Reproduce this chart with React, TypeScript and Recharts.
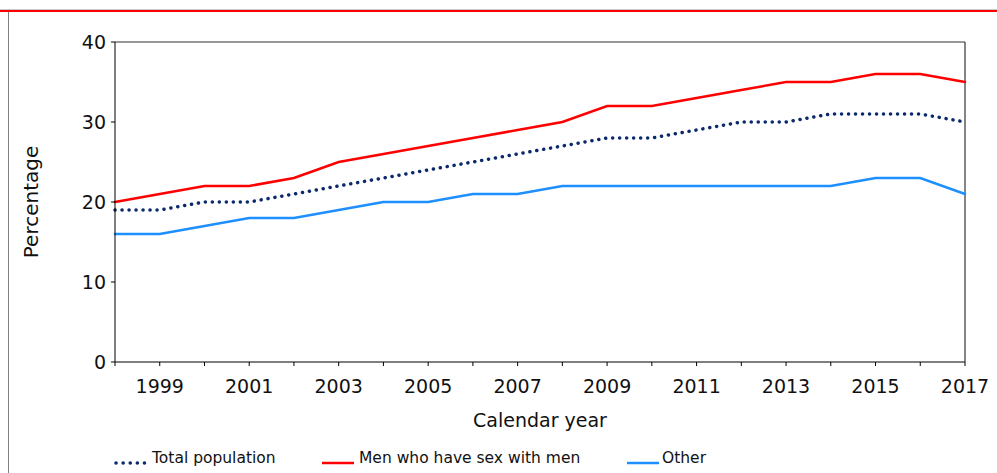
import { LineChart, Line, XAxis, YAxis, ReferenceLine, Label } from "recharts";

const years = [
  1998, 1999, 2000, 2001, 2002, 2003, 2004, 2005, 2006, 2007,
  2008, 2009, 2010, 2011, 2012, 2013, 2014, 2015, 2016, 2017,
];
const totalPopulation = [19, 19, 20, 20, 21, 22, 23, 24, 25, 26, 27, 28, 28, 29, 30, 30, 31, 31, 31, 30];
const menWithMen = [20, 21, 22, 22, 23, 25, 26, 27, 28, 29, 30, 32, 32, 33, 34, 35, 35, 36, 36, 35];
const other = [16, 16, 17, 18, 18, 19, 20, 20, 21, 21, 22, 22, 22, 22, 22, 22, 22, 23, 23, 21];
const labelledYears = [1999, 2001, 2003, 2005, 2007, 2009, 2011, 2013, 2015, 2017];
const yTicks = [0, 10, 20, 30, 40];

const FONT = "'DejaVu Sans', Verdana, sans-serif";
const TEXT = "#111";

const series = [
  { key: "total", name: "Total population", color: "#0b2a6b", width: 3.5, dash: "0.1 6.9", legendX: 115, textX: 152 },
  { key: "msm", name: "Men who have sex with men", color: "#ff0000", width: 2.5, dash: undefined, legendX: 322, textX: 359 },
  { key: "other", name: "Other", color: "#1e8fff", width: 2.5, dash: undefined, legendX: 627, textX: 662 },
];

const data = years.map((year, i) => ({
  year,
  total: totalPopulation[i],
  msm: menWithMen[i],
  other: other[i],
}));

export default function App() {
  return (
    <div style={{ position: "absolute", left: 0, top: 0, width: 997, height: 473, background: "#fff", fontFamily: FONT }}>
      {/* frame around the figure */}
      <div style={{ position: "absolute", left: 0, top: 9, width: 997, height: 1, background: "#c8c8c8" }} />
      <div style={{ position: "absolute", left: 0, top: 10, width: 997, height: 2, background: "#ff0000" }} />
      <div style={{ position: "absolute", left: 8, top: 12, width: 1, height: 461, background: "#808080" }} />

      <LineChart
        width={997}
        height={473}
        data={data}
        margin={{ top: 42, right: 32, left: 0, bottom: 41 }}
        style={{ position: "absolute", left: 0, top: 0, fontFamily: FONT }}
      >
        <XAxis
          dataKey="year"
          type="number"
          domain={[1998, 2017]}
          ticks={years}
          interval={0}
          height={70}
          tickSize={4}
          tickMargin={14}
          stroke="#000"
          tick={{ fill: TEXT, fontSize: 19, fontFamily: FONT }}
          tickFormatter={(v: number) => (labelledYears.includes(v) ? String(v) : "")}
        >
          <Label
            value="Calendar year"
            position="insideBottom"
            offset={5}
            style={{ fill: TEXT, fontSize: 19, fontFamily: FONT }}
          />
        </XAxis>
        <YAxis
          domain={[0, 40]}
          ticks={yTicks}
          width={115}
          tickSize={4}
          tickMargin={5}
          stroke="#000"
          tick={{ fill: TEXT, fontSize: 19, fontFamily: FONT }}
        >
          <Label
            content={(props: any) => {
              const vb = props.viewBox || { x: 0, y: 42, height: 320 };
              const cx = vb.x + 31;
              const cy = vb.y + vb.height / 2;
              return (
                <text
                  x={cx}
                  y={cy}
                  transform={`rotate(-90, ${cx}, ${cy})`}
                  textAnchor="middle"
                  dominantBaseline="central"
                  fill={TEXT}
                  fontSize={20}
                  fontFamily={FONT}
                >
                  Percentage
                </text>
              );
            }}
          />
        </YAxis>
        <ReferenceLine y={40} stroke="#333" strokeWidth={1.2} />
        <ReferenceLine x={2017} stroke="#333" strokeWidth={1.2} />
        {series.map((s) => (
          <Line
            key={s.key}
            dataKey={s.key}
            name={s.name}
            type="linear"
            stroke={s.color}
            strokeWidth={s.width}
            strokeDasharray={s.dash}
            strokeLinecap="round"
            dot={false}
            activeDot={false}
            isAnimationActive={false}
          />
        ))}
      </LineChart>

      {/* legend */}
      {series.map((s) => (
        <div key={s.key}>
          <svg
            width={34}
            height={8}
            style={{ position: "absolute", left: s.legendX - 1, top: 459 }}
          >
            <line
              x1={s.dash ? 2 : 1}
              y1={4}
              x2={33}
              y2={4}
              stroke={s.color}
              strokeWidth={s.dash ? 3.5 : 2.5}
              strokeDasharray={s.dash ? "0.1 7" : undefined}
              strokeLinecap={s.dash ? "round" : "butt"}
            />
          </svg>
          <div
            style={{
              position: "absolute",
              left: s.textX,
              top: 449,
              fontSize: 15.5,
              lineHeight: "18px",
              color: TEXT,
              whiteSpace: "nowrap",
            }}
          >
            {s.name}
          </div>
        </div>
      ))}
    </div>
  );
}
